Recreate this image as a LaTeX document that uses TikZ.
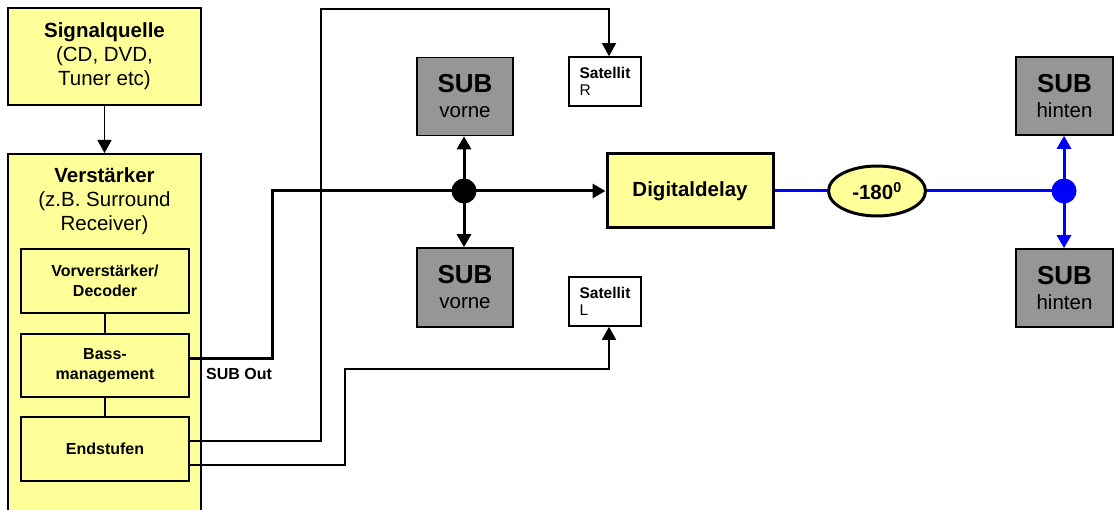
\documentclass[tikz,border=0pt]{standalone}
\usepackage{fontspec}
\setmainfont{Liberation Sans}
\usetikzlibrary{arrows.meta,shapes.geometric}
\definecolor{yel}{HTML}{FFFF99}
\definecolor{subgray}{HTML}{969696}
\definecolor{lineblue}{HTML}{0000FF}
\begin{document}
\begin{tikzpicture}[x=1pt,y=-1pt,
  every node/.style={font=\fontsize{20.5}{24}\selectfont},
  ybox/.style={draw, fill=yel, line width=2pt, inner sep=0pt, align=center, rectangle},
  ibox/.style={ybox, minimum width=168pt, minimum height=64pt, font=\fontsize{16}{19.5}\selectfont\bfseries},
  gbox/.style={draw, fill=subgray, line width=1.6pt, inner sep=0pt, align=center,
    minimum width=96pt, minimum height=78pt, font=\fontsize{20.5}{25}\selectfont},
  wbox/.style={draw, fill=white, line width=1.6pt, inner sep=0pt, align=left,
    minimum width=72pt, minimum height=49pt, font=\fontsize{15.5}{17.5}\selectfont},
  junc/.style={circle, inner sep=0pt, minimum size=25pt},
  tip/.style={-{Triangle[length=13pt,width=14pt]}},
  thinline/.style={line width=1.5pt},
  thickline/.style={line width=3pt},
  blueline/.style={line width=3pt, draw=lineblue},
]
\useasboundingbox (0,0) rectangle (1115,510);
\clip (0,0) rectangle (1115,510);

% left column
\node[ybox, minimum width=193pt, minimum height=97pt] (sig) at (104.5,56.5)
  {\textbf{Signalquelle}\\(CD, DVD,\\Tuner etc)};
\node[ybox, minimum width=193pt, minimum height=380pt, anchor=north] (verst) at (104.5,153) {};
\node[align=center, inner sep=0pt] (verstlabel) at (104.5,201)
  {\textbf{Verstärker}\\(z.B. Surround\\Receiver)};
\node[ibox] (vor) at (105,281) {Vorverstärker/\\Decoder};
\node[ibox, minimum height=63pt] (bass) at (105,365.5) {Bass-\\management};
\node[ibox] (end) at (105,449) {Endstufen};
\node[anchor=base west, inner sep=0pt, font=\fontsize{16}{19}\selectfont\bfseries] (subout) at (206,379) {SUB Out};

\draw[thinline, tip] (sig.south) -- (verst.north);
\draw[thinline] (vor.south) -- (bass.north);
\draw[thinline] (bass.south) -- (end.north);

% subs front and satellites
\node[gbox] (subv1) at (465,96.5) {{\fontsize{26}{25}\selectfont\bfseries SUB}\\vorne};
\node[gbox, minimum height=79pt] (subv2) at (465,287.5) {{\fontsize{26}{25}\selectfont\bfseries SUB}\\vorne};
\node[wbox] (satR) at (605,81.5) {\textbf{Satellit}\\R};
\node[wbox] (satL) at (605,301.5) {\textbf{Satellit}\\L};

% delay chain
\node[ybox, line width=3pt, minimum width=166pt, minimum height=74pt, font=\fontsize{20.5}{24}\selectfont\bfseries] (dd) at (690,191) {Digitaldelay};
\node[ellipse, draw, fill=yel, line width=3pt, minimum width=97pt, minimum height=50pt, inner sep=0pt,
  font=\fontsize{20.5}{24}\selectfont\bfseries] (ph) at (877,191) {-180\textsuperscript{0}};
\node[gbox, minimum width=97pt] (subh1) at (1064.5,96) {{\fontsize{26}{25}\selectfont\bfseries SUB}\\hinten};
\node[gbox, minimum width=97pt] (subh2) at (1064.5,288) {{\fontsize{26}{25}\selectfont\bfseries SUB}\\hinten};

\node[junc, fill=black] (j1) at (464,191) {};
\node[junc, fill=lineblue] (j2) at (1064,191) {};

% black SUB line
\draw[thickline] ([yshift=7.5pt]bass.east) -| (272,191) -- (j1.center);
\draw[thickline, tip] (j1.center) -- (j1 |- subv1.south);
\draw[thickline, tip] (j1.center) -- (j1 |- subv2.north);
\draw[thickline, tip] (j1.center) -- (dd.west);

% blue line
\draw[blueline] (dd.east) -- (ph.west);
\draw[blueline] (ph.east) -- (j2.center);
\draw[blueline, tip, fill=lineblue] (j2.center) -- (j2 |- subh1.south);
\draw[blueline, tip, fill=lineblue] (j2.center) -- (j2 |- subh2.north);

% satellite lines
\draw[thinline, tip] ([yshift=8pt]end.east) -| (321,9) -| ([xshift=4pt]satR.north);
\draw[thinline, tip] ([yshift=-16pt]end.east) -| (345,369) -| ([xshift=4pt]satL.south);
\end{tikzpicture}
\end{document}
